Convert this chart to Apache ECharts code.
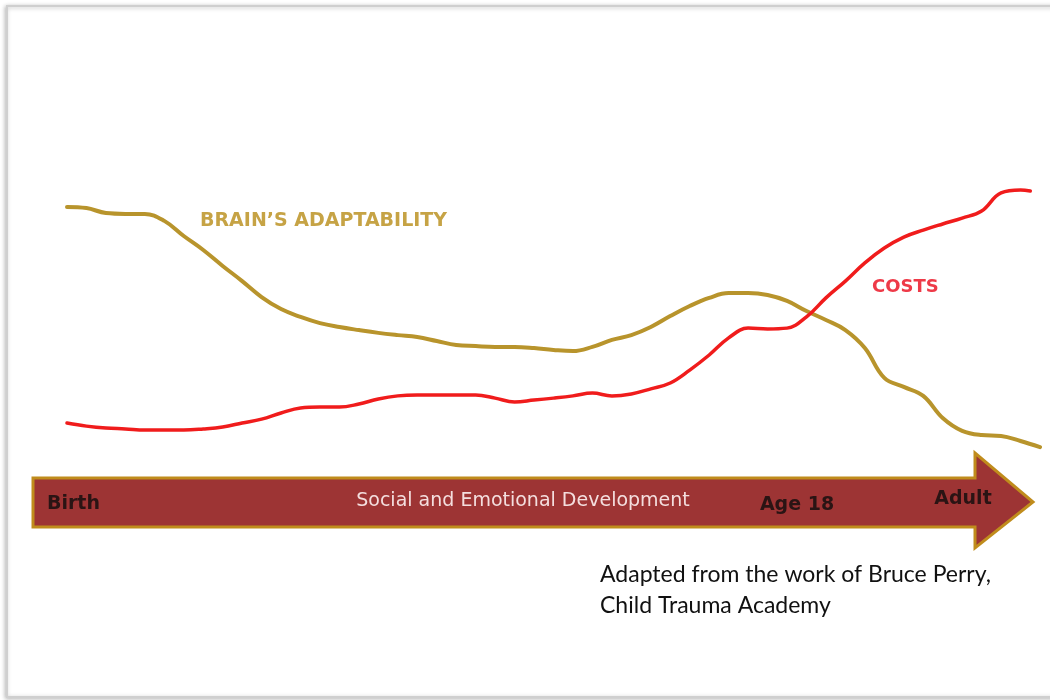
<!DOCTYPE html>
<html>
<head>
<meta charset="utf-8">
<script src="https://cdn.jsdelivr.net/npm/echarts@6/dist/echarts.min.js"></script>
<style>
html,body{margin:0;padding:0;background:#fff;}
#c{width:1050px;height:700px;}
</style>
</head>
<body>
<div id="c"></div>
<script>
// Position along development (0 = Birth, 100 = Adult)
const positions = [0,2,4,6,8,10,12,14,16,18,20,22,24,26,28,30,32,34,36,38,40,42,44,46,48,50,52,54,56,58,60,62,64,66,68,70,72,74,76,78,80,82,84,86,88,90,92,94,96,98,100];
// Brain's adaptability (relative level)
const adaptability = [90.4,90.0,88.2,87.9,87.9,85.4,80.0,75.0,69.3,63.9,58.2,53.9,51.1,48.9,47.5,46.4,45.4,44.6,43.9,42.5,41.1,40.7,40.4,40.4,40.0,39.3,38.9,40.4,42.9,44.6,47.5,51.4,55.0,57.9,59.6,59.6,58.9,56.8,53.2,50.0,46.4,40.0,29.3,26.1,22.9,15.0,10.4,8.9,8.6,6.8,4.6];
// Costs (relative level)
const costPositions = [0,2,4,6,8,10,12,14,16,18,20,22,24,26,28,30,32,34,36,38,40,42,44,46,48,50,52,54,56,58,60,62,64,66,68,70,72,74,76,78,80,82,84,86,88,90,92,94,96,98,99];
const costs = [13.2,12.1,11.4,11.1,10.7,10.7,10.7,11.1,11.8,13.2,14.6,16.8,18.6,18.9,18.9,20.0,21.8,22.9,23.2,23.2,23.2,23.2,22.1,20.7,21.4,22.1,22.9,23.9,22.9,23.6,25.4,27.5,32.1,37.5,43.6,47.1,46.8,47.1,51.1,57.9,63.9,70.4,75.7,79.6,82.1,84.3,86.4,88.9,95.4,96.4,96.1];
// Texts
const seriesLabels = ["BRAIN’S ADAPTABILITY", "COSTS"];
const arrowLabels = ["Birth", "Social and Emotional Development", "Age 18", "Adult"];
const noteLines = ["Adapted from the work of Bruce Perry,", "Child Trauma Academy"];

const gold = '#B8942C';
const red = '#F01C1C';

const chart = echarts.init(document.getElementById('c'), null, {renderer:'canvas'});
chart.setOption({
  animation: false,
  backgroundColor: '#ffffff',
  grid: {left: 67, right: 10, top: 180, bottom: 240},
  xAxis: {type: 'value', min: 0, max: 100, show: false},
  yAxis: {type: 'value', min: 0, max: 100, show: false},
  graphic: [
    {type:'rect', z: 0, shape:{x:7, y:6, width:1060, height:691},
     style:{fill:'#fff', stroke:'#cfcfcf', lineWidth:2, shadowBlur:4, shadowColor:'rgba(0,0,0,0.25)', shadowOffsetX:-1, shadowOffsetY:1}},
    {type:'polygon', z: 1,
     shape:{points:[[33,478],[975,478],[975,453],[1033,502],[975,548],[975,527],[33,527]]},
     style:{fill:'#9D3434', stroke:'#C08C1C', lineWidth:3, lineJoin:'miter'}},
    {type:'text', z: 2, style:{text: arrowLabels[0], x:47, y:504, fill:'#2A1414', font:'bold 19px "DejaVu Sans", sans-serif', verticalAlign:'middle', textAlign:'left'}},
    {type:'text', z: 2, style:{text: arrowLabels[1], x:523, y:501, fill:'#F4DEDE', font:'19px "DejaVu Sans", sans-serif', verticalAlign:'middle', textAlign:'center'}},
    {type:'text', z: 2, style:{text: arrowLabels[2], x:797, y:505, fill:'#2A1414', font:'bold 19px "DejaVu Sans", sans-serif', verticalAlign:'middle', textAlign:'center'}},
    {type:'text', z: 2, style:{text: arrowLabels[3], x:963, y:499, fill:'#2A1414', font:'bold 19px "DejaVu Sans", sans-serif', verticalAlign:'middle', textAlign:'center'}},
    {type:'text', z: 2, style:{text: seriesLabels[0], x:200, y:221, fill:'#C6A345', font:'bold 19px "DejaVu Sans", sans-serif', verticalAlign:'middle', textAlign:'left'}},
    {type:'text', z: 2, style:{text: seriesLabels[1], x:872, y:287, fill:'#EE3A48', font:'bold 18px "DejaVu Sans", sans-serif', verticalAlign:'middle', textAlign:'left'}},
    {type:'text', z: 2, style:{text: noteLines[0], x:600, y:575, fill:'#111', font:'23px Lato, sans-serif', verticalAlign:'middle', textAlign:'left'}},
    {type:'text', z: 2, style:{text: noteLines[1], x:600, y:606, fill:'#111', font:'23px Lato, sans-serif', verticalAlign:'middle', textAlign:'left'}}
  ],
  series: [
    {type:'line', name: seriesLabels[0], data: positions.map((p,i)=>[p, adaptability[i]]),
     smooth: 0.4, symbol:'none', z: 5,
     lineStyle:{color: gold, width: 4, cap:'round', join:'round'}},
    {type:'line', name: seriesLabels[1], data: costPositions.map((p,i)=>[p, costs[i]]),
     smooth: 0.4, symbol:'none', z: 6,
     lineStyle:{color: red, width: 3.5, cap:'round', join:'round'}}
  ]
});
</script>
</body>
</html>
